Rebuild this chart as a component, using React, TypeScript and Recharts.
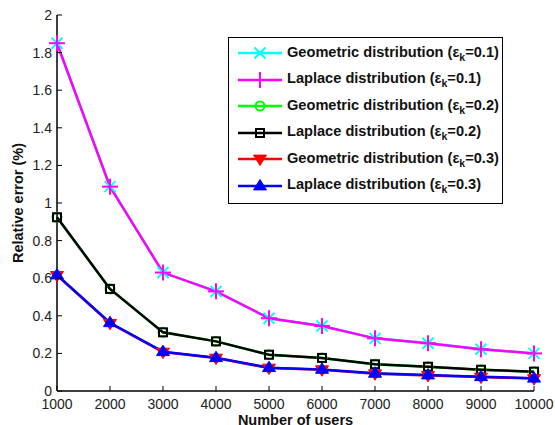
import { Line, LineChart, XAxis, YAxis } from "recharts";

const users = [1000, 2000, 3000, 4000, 5000, 6000, 7000, 8000, 9000, 10000];
const geo01 = [1.85, 1.087, 0.63, 0.53, 0.387, 0.346, 0.28, 0.254, 0.222, 0.2];
const lap01 = [1.85, 1.087, 0.63, 0.53, 0.387, 0.346, 0.28, 0.254, 0.222, 0.2];
const geo02 = [0.924, 0.543, 0.312, 0.264, 0.193, 0.176, 0.142, 0.129, 0.113, 0.103];
const lap02 = [0.924, 0.543, 0.312, 0.264, 0.193, 0.176, 0.142, 0.129, 0.113, 0.103];
const geo03 = [0.615, 0.36, 0.207, 0.175, 0.122, 0.113, 0.092, 0.083, 0.074, 0.066];
const lap03 = [0.617, 0.363, 0.209, 0.177, 0.124, 0.115, 0.094, 0.085, 0.076, 0.068];
const yTicks = [0, 0.2, 0.4, 0.6, 0.8, 1, 1.2, 1.4, 1.6, 1.8, 2];

const series = [
  { key: "geo01", name: "Geometric distribution", eps: "0.1", color: "#00ffff", marker: "x" },
  { key: "lap01", name: "Laplace distribution", eps: "0.1", color: "#ff00ff", marker: "+" },
  { key: "geo02", name: "Geometric distribution", eps: "0.2", color: "#00ff00", marker: "o" },
  { key: "lap02", name: "Laplace distribution", eps: "0.2", color: "#000000", marker: "s" },
  { key: "geo03", name: "Geometric distribution", eps: "0.3", color: "#ff0000", marker: "v" },
  { key: "lap03", name: "Laplace distribution", eps: "0.3", color: "#0000ff", marker: "^" },
];

const values: Record<string, number[]> = { geo01, lap01, geo02, lap02, geo03, lap03 };

const data = users.map((u, i) => {
  const row: Record<string, number> = { users: u };
  for (const s of series) row[s.key] = values[s.key][i];
  return row;
});

const FONT = "'Liberation Sans', Arial, sans-serif";

function marker(kind: string, cx: number, cy: number, color: string, key?: any) {
  const sw = 2;
  if (kind === "x") {
    const d = 5.5;
    return (
      <g key={key}>
        <line x1={cx - d} y1={cy - d} x2={cx + d} y2={cy + d} stroke={color} strokeWidth={sw} />
        <line x1={cx - d} y1={cy + d} x2={cx + d} y2={cy - d} stroke={color} strokeWidth={sw} />
      </g>
    );
  }
  if (kind === "+") {
    const d = 8;
    return (
      <g key={key}>
        <line x1={cx - d} y1={cy} x2={cx + d} y2={cy} stroke={color} strokeWidth={sw} />
        <line x1={cx} y1={cy - d} x2={cx} y2={cy + d} stroke={color} strokeWidth={sw} />
      </g>
    );
  }
  if (kind === "o") {
    return <circle key={key} cx={cx} cy={cy} r={4.5} fill="none" stroke={color} strokeWidth={sw} />;
  }
  if (kind === "s") {
    return <rect key={key} x={cx - 4} y={cy - 4} width={8} height={8} fill="none" stroke={color} strokeWidth={sw} />;
  }
  if (kind === "v") {
    const d = 6.5;
    return (
      <path key={key} d={`M${cx - d},${cy - d * 0.6} L${cx + d},${cy - d * 0.6} L${cx},${cy + d} Z`} fill={color} stroke={color} strokeWidth={1} />
    );
  }
  const d = 6.5;
  return (
    <path key={key} d={`M${cx - d},${cy + d * 0.6} L${cx + d},${cy + d * 0.6} L${cx},${cy - d} Z`} fill={color} stroke={color} strokeWidth={1} />
  );
}

const BottomTick = (props: any) => {
  const { x, y, payload } = props;
  return (
    <g>
      <line x1={x} x2={x} y1={y} y2={y - 5} stroke="#000" strokeWidth={1} />
      <text x={x} y={y + 18} textAnchor="middle" fontSize={14} fontFamily={FONT} fill="#222">
        {payload.value}
      </text>
    </g>
  );
};

const TopTick = (props: any) => {
  const { x, y } = props;
  return <line x1={x} x2={x} y1={y} y2={y + 5} stroke="#000" strokeWidth={1} />;
};

const LeftTick = (props: any) => {
  const { x, y, payload } = props;
  return (
    <g>
      <line x1={x} x2={x + 5} y1={y} y2={y} stroke="#000" strokeWidth={1} />
      <text x={x - 5} y={y + 5} textAnchor="end" fontSize={14} fontFamily={FONT} fill="#222">
        {payload.value}
      </text>
    </g>
  );
};

const RightTick = (props: any) => {
  const { x, y } = props;
  return <line x1={x} x2={x - 5} y1={y} y2={y} stroke="#000" strokeWidth={1} />;
};

export default function App() {
  const axisLine = { stroke: "#000", strokeWidth: 1.5 };
  return (
    <div style={{ position: "absolute", left: 0, top: 0, width: 555, height: 425, overflow: "hidden", background: "#fff", fontFamily: FONT }}>
      <LineChart width={555} height={425} data={data} margin={{ top: 15, right: 21, bottom: 0, left: 0 }}>
        <XAxis xAxisId="bottom" dataKey="users" type="number" domain={[1000, 10000]} ticks={users} interval={0}
          height={34} tickSize={0} tickMargin={0} tickLine={false} axisLine={axisLine} tick={<BottomTick />} />
        <XAxis xAxisId="top" orientation="top" dataKey="users" type="number" domain={[1000, 10000]} ticks={users} interval={0}
          height={0} tickSize={0} tickMargin={0} tickLine={false} axisLine={axisLine} tick={<TopTick />} />
        <YAxis yAxisId="left" type="number" domain={[0, 2]} ticks={yTicks} interval={0}
          width={57} tickSize={0} tickMargin={0} tickLine={false} axisLine={axisLine} tick={<LeftTick />} />
        <YAxis yAxisId="right" orientation="right" type="number" domain={[0, 2]} ticks={yTicks} interval={0}
          width={0} tickSize={0} tickMargin={0} tickLine={false} axisLine={axisLine} tick={<RightTick />} />
        {series.map((s) => (
          <Line
            key={s.key}
            xAxisId="bottom"
            yAxisId="left"
            dataKey={s.key}
            stroke={s.color}
            strokeWidth={2.5}
            isAnimationActive={false}
            dot={(p: any) => marker(s.marker, p.cx, p.cy, s.color, `${s.key}-${p.index}`)}
            activeDot={false}
          />
        ))}
      </LineChart>

      <div style={{ position: "absolute", left: 0, top: 412, width: 555, textAlign: "center", paddingLeft: 36, boxSizing: "border-box", fontSize: 14.5, lineHeight: "17px", fontWeight: "bold", color: "#111" }}>
        Number of users
      </div>
      <div style={{ position: "absolute", left: 18, top: 203, transform: "translate(-50%, -50%) rotate(-90deg)", whiteSpace: "nowrap", fontSize: 14.5, fontWeight: "bold", color: "#111" }}>
        Relative error (%)
      </div>

      <div style={{ position: "absolute", left: 228, top: 37, width: 275, height: 167, boxSizing: "border-box", border: "1px solid #000", background: "#fff", paddingTop: 2 }}>
        {series.map((s) => (
          <div key={s.key} style={{ display: "flex", alignItems: "center", height: 26.5 }}>
            <svg width={46} height={20} style={{ marginLeft: 8, flex: "none" }}>
              <line x1={1} x2={45} y1={10} y2={10} stroke={s.color} strokeWidth={2.5} />
              {marker(s.marker, 23, 10, s.color)}
            </svg>
            <span style={{ marginLeft: 4, fontSize: 14.6, fontWeight: "bold", color: "#111", whiteSpace: "nowrap" }}>
              {s.name} ({"\u03b5"}
              <sub style={{ fontSize: 10.5, verticalAlign: "-4px" }}>k</sub>={s.eps})
            </span>
          </div>
        ))}
      </div>
    </div>
  );
}
